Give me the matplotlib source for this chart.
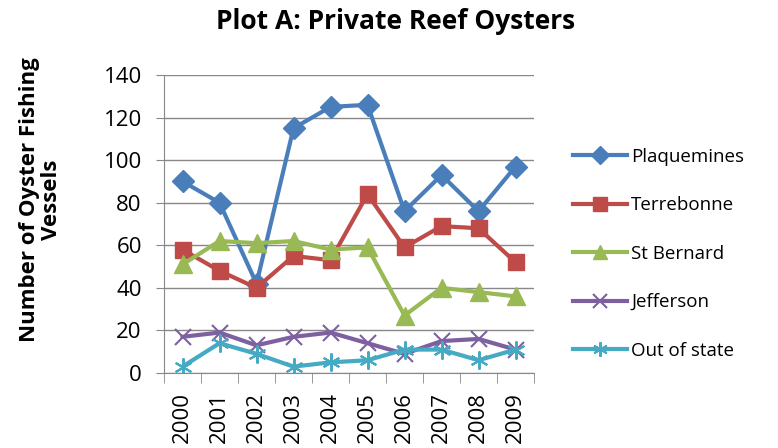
import matplotlib
matplotlib.use('Agg')
import matplotlib.pyplot as plt
from matplotlib.ticker import FixedLocator, NullFormatter

plt.rcParams['font.family'] = ['Open Sans', 'DejaVu Sans']

years = ['2000', '2001', '2002', '2003', '2004', '2005', '2006', '2007', '2008', '2009']
plaquemines = [90, 80, 42, 115, 125, 126, 76, 93, 76, 97]
terrebonne = [58, 48, 40, 55, 53, 84, 59, 69, 68, 52]
st_bernard = [51, 62, 61, 62, 58, 59, 27, 40, 38, 36]
jefferson = [17, 19, 13, 17, 19, 14, 9, 15, 16, 11]
out_of_state = [3, 14, 9, 3, 5, 6, 11, 11, 6, 11]

x = list(range(len(years)))

fig = plt.figure(figsize=(7.78, 4.48), dpi=100)
ax = fig.add_axes([0.2108, 0.1674, 0.4756, 0.6652])

ax.plot(x, plaquemines, color='#4A7EBB', lw=3, marker='D', ms=11, label='Plaquemines')
ax.plot(x, terrebonne, color='#BE4B48', lw=3, marker='s', ms=12, label='Terrebonne')
ax.plot(x, st_bernard, color='#98B954', lw=3, marker='^', ms=13, label='St Bernard')
ax.plot(x, jefferson, color='#7D60A0', lw=3, marker='x', ms=12, mew=1.5, label='Jefferson')
ax.plot(x, out_of_state, color='#46AAC5', lw=3, marker=(6, 2, 0), ms=13, mew=1.5, label='Out of state')

ax.set_xlim(-0.5, 9.5)
ax.set_ylim(0, 140)
ax.set_yticks(range(0, 141, 20))
ax.set_xticks(x)
ax.set_xticklabels(years, rotation=90)
ax.xaxis.set_minor_locator(FixedLocator([i - 0.5 for i in range(11)]))
ax.xaxis.set_minor_formatter(NullFormatter())
ax.tick_params(axis='x', which='major', length=0, labelsize=16, pad=14)
ax.tick_params(axis='x', which='minor', length=7, color='#888888')
ax.tick_params(axis='y', length=6, color='#888888', labelsize=16, pad=10)

ax.grid(axis='y', color='#888888', lw=1)
ax.set_axisbelow(True)
for s in ['top', 'right']:
    ax.spines[s].set_visible(False)
for s in ['left', 'bottom']:
    ax.spines[s].set_color('#888888')

fig.text(0.508, 0.951, 'Plot A: Private Reef Oysters', ha='center', va='center',
         fontsize=19, fontweight='bold')
fig.text(0.052, 0.554, 'Number of Oyster Fishing\nVessels', rotation=90, ha='center',
         va='center', fontsize=16, fontweight='bold', linespacing=1.05)

ax.legend(loc='center left', bbox_to_anchor=(1.06, 0.40), frameon=False, fontsize=13.5,
          handlelength=2.9, labelspacing=1.62, handletextpad=0.2, markerscale=0.8)

fig.savefig('out.png', dpi=100)
